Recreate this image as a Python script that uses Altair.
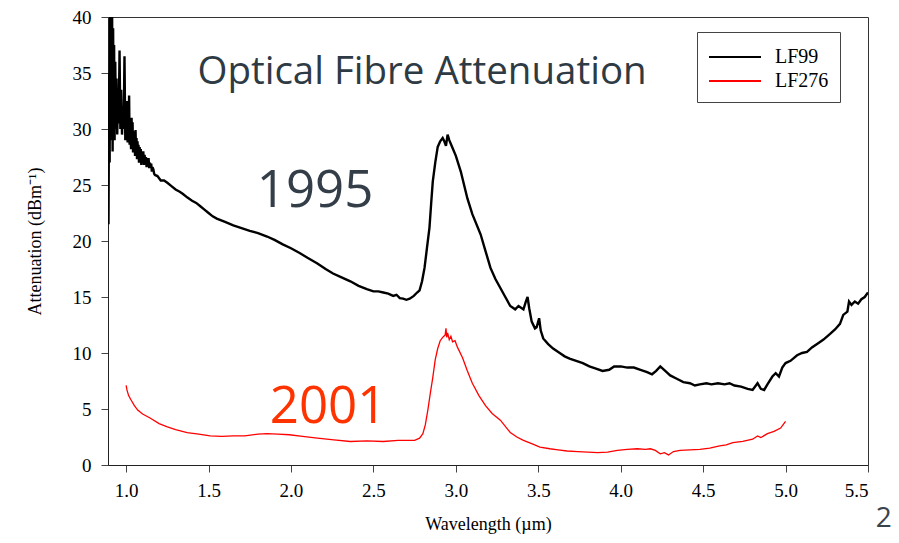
import altair as alt
import pandas as pd

# ---- data ----
lf99_x = [0.893, 0.897, 0.900, 0.903, 0.906, 0.909, 0.912, 0.915, 0.918, 0.921, 0.924, 0.927, 0.930,
          0.934, 0.938, 0.942, 0.946, 0.950, 0.955, 0.960, 0.965, 0.970, 0.975, 0.980, 0.985, 0.990,
          0.995, 1.000, 1.003, 1.006, 1.009, 1.012, 1.015, 1.018, 1.021, 1.024, 1.027, 1.030, 1.033,
          1.036, 1.039, 1.042, 1.045, 1.048, 1.051, 1.054, 1.057, 1.060, 1.063, 1.066, 1.069, 1.072,
          1.075, 1.078, 1.082, 1.085, 1.089, 1.092, 1.096, 1.100, 1.104, 1.108, 1.112, 1.116, 1.120,
          1.124, 1.128, 1.132, 1.136, 1.140, 1.144, 1.148, 1.152, 1.156, 1.160, 1.165, 1.170,
          1.175, 1.19, 1.21, 1.23, 1.25, 1.275, 1.30, 1.325, 1.345, 1.37, 1.40, 1.425, 1.45, 1.475,
          1.50, 1.525, 1.55, 1.60, 1.65, 1.70, 1.75, 1.80, 1.855, 1.90, 1.95, 2.00, 2.055, 2.10, 2.16,
          2.21, 2.255, 2.30, 2.36, 2.41, 2.46, 2.50, 2.53, 2.56, 2.59, 2.62, 2.64, 2.66, 2.68, 2.70,
          2.72, 2.745, 2.765, 2.78, 2.795, 2.81, 2.825, 2.84, 2.85, 2.86, 2.875, 2.89, 2.905, 2.92,
          2.93, 2.94, 2.95, 2.96, 2.98, 3.00, 3.03, 3.05, 3.07, 3.10, 3.15, 3.18, 3.21, 3.24, 3.27,
          3.30, 3.33, 3.36, 3.38, 3.40, 3.41, 3.425, 3.435, 3.445, 3.46, 3.48, 3.49, 3.505, 3.515,
          3.53, 3.56, 3.59, 3.63, 3.66, 3.69, 3.73, 3.77, 3.81, 3.85, 3.89, 3.93, 3.96, 4.00, 4.04,
          4.08, 4.12, 4.16, 4.19, 4.215, 4.24, 4.27, 4.30, 4.34, 4.38, 4.42, 4.45, 4.48, 4.52, 4.55,
          4.59, 4.63, 4.66, 4.69, 4.73, 4.77, 4.80, 4.83, 4.85, 4.87, 4.89, 4.92, 4.94, 4.96, 4.98,
          5.00, 5.03, 5.07, 5.10, 5.13, 5.16, 5.20, 5.23, 5.27, 5.30, 5.33, 5.35, 5.375, 5.385, 5.40,
          5.42, 5.44, 5.46, 5.48, 5.50]
lf99_y = [21.5, 35.0, 27.0, 40.0, 29.0, 40.0, 30.0, 40.0, 28.0, 39.0, 30.5, 37.5, 29.0,
          36.0, 30.0, 34.5, 29.5, 33.0, 30.5, 37.0, 30.0, 33.5, 29.5, 32.0, 30.0, 36.5,
          29.0, 31.8, 29.2, 32.5, 28.8, 31.5, 29.0, 33.0, 28.6, 30.8, 29.4, 28.2, 31.0,
          28.6, 30.6, 27.9, 29.8, 28.3, 29.6, 27.6, 29.9, 28.0, 29.2, 27.3, 28.9, 27.6,
          28.6, 27.0, 28.4, 27.2, 28.2, 26.8, 27.9, 27.2, 28.0, 26.8, 27.7, 26.9, 27.5,
          26.6, 27.4, 26.7, 27.4, 26.5, 27.0, 26.6, 26.9, 26.2, 26.6, 26.4, 26.0,
          25.9, 25.8, 25.4, 25.4, 25.2, 24.9, 24.6, 24.4, 24.2, 23.9, 23.6, 23.4, 23.1, 22.8,
          22.5, 22.2, 22.0, 21.7, 21.4, 21.15, 20.9, 20.7, 20.4, 20.1, 19.7, 19.35, 18.9, 18.5, 18.0,
          17.5, 17.1, 16.8, 16.4, 16.0, 15.7, 15.5, 15.5, 15.4, 15.3, 15.1, 15.2, 14.9, 14.85, 14.75,
          14.85, 15.1, 15.4, 15.6, 16.4, 17.6, 19.4, 21.2, 23.3, 25.3, 27.0, 28.4, 28.9, 29.2,
          28.9, 28.5, 29.5, 29.0, 28.3, 27.6, 26.2, 25.0, 23.8, 22.4, 20.6, 19.1, 17.6, 16.6, 15.8,
          15.0, 14.2, 13.9, 14.2, 14.0, 13.9, 14.6, 15.0, 14.0, 12.8, 12.2, 12.3, 13.1, 12.0,
          11.3, 10.8, 10.4, 10.0, 9.7, 9.5, 9.3, 9.1, 8.8, 8.6, 8.4, 8.5, 8.8, 8.8, 8.7,
          8.7, 8.5, 8.3, 8.1, 8.4, 8.8, 8.4, 8.0, 7.7, 7.4, 7.3, 7.1, 7.2, 7.3, 7.2,
          7.3, 7.2, 7.3, 7.1, 7.0, 6.8, 6.7, 7.3, 6.8, 6.7, 7.2, 7.9, 8.2, 7.9, 8.7,
          9.1, 9.3, 9.8, 10.0, 10.1, 10.5, 10.9, 11.2, 11.7, 12.1, 12.6, 13.4, 13.7, 14.6, 14.3,
          14.6, 14.4, 14.8, 15.0, 15.4]

lf276_x = [1.000, 1.005, 1.015, 1.03, 1.05, 1.07, 1.10, 1.145, 1.20, 1.25, 1.30, 1.37, 1.44, 1.51,
           1.58, 1.65, 1.72, 1.80, 1.855, 1.92, 1.99, 2.07, 2.16, 2.26, 2.36, 2.46, 2.56, 2.65,
           2.72, 2.75, 2.78, 2.80, 2.815, 2.83, 2.845, 2.86, 2.875, 2.89, 2.905, 2.92, 2.935, 2.94,
           2.945, 2.95, 2.96, 2.97, 2.98, 2.995, 3.01, 3.04, 3.07, 3.10, 3.14, 3.18, 3.22, 3.27,
           3.33, 3.37, 3.41, 3.46, 3.51, 3.57, 3.62, 3.675, 3.74, 3.80, 3.86, 3.92, 3.98, 4.04,
           4.10, 4.15, 4.18, 4.21, 4.24, 4.265, 4.29, 4.32, 4.36, 4.42, 4.48, 4.54, 4.60, 4.64,
           4.68, 4.74, 4.80, 4.83, 4.85, 4.89, 4.93, 4.97, 5.00]
lf276_y = [7.1, 6.7, 6.2, 5.8, 5.3, 4.9, 4.55, 4.2, 3.7, 3.4, 3.15, 2.9, 2.75, 2.6,
           2.55, 2.6, 2.6, 2.75, 2.8, 2.75, 2.7, 2.55, 2.4, 2.25, 2.1, 2.15, 2.1, 2.2,
           2.2, 2.2, 2.4, 2.8, 3.6, 4.9, 6.4, 7.8, 9.4, 10.4, 11.1, 11.4, 11.6, 12.2,
           11.4, 11.8, 11.2, 11.5, 11.0, 11.1, 10.5, 9.6, 8.4, 7.3, 6.2, 5.3, 4.6, 4.0,
           2.9, 2.5, 2.2, 1.9, 1.6, 1.45, 1.35, 1.25, 1.2, 1.15, 1.1, 1.15, 1.3, 1.4,
           1.45, 1.4, 1.45, 1.3, 1.0, 1.1, 0.9, 1.2, 1.3, 1.35, 1.4, 1.5, 1.7, 1.8,
           2.0, 2.1, 2.3, 2.6, 2.45, 2.8, 3.0, 3.3, 3.9]

series_names = ["LF99", "LF276"]
series_colors = ["#000000", "#ff0000"]

x_ticks = [1.0, 1.5, 2.0, 2.5, 3.0, 3.5, 4.0, 4.5, 5.0, 5.5]
y_ticks = [0, 5, 10, 15, 20, 25, 30, 35, 40]

ann_text = ["Optical Fibre Attenuation", "1995", "2001", "2"]
ann_x = [2.795, 2.146, 2.225, 5.595]
ann_y = [35.1, 24.4, 5.07, -4.8]

df99 = pd.DataFrame({"wl": lf99_x, "att": lf99_y, "series": "LF99"})
df276 = pd.DataFrame({"wl": lf276_x, "att": lf276_y, "series": "LF276"})

xs = alt.Scale(domain=[0.89, 5.5], nice=False, zero=False)
ys = alt.Scale(domain=[0, 40], nice=False, zero=False)
cs = alt.Scale(domain=series_names, range=series_colors)

serif = "Liberation Serif"
nbsp = "\u00a0"

x_enc = alt.X("wl:Q", scale=xs, title="Wavelength (µm)",
              axis=alt.Axis(values=x_ticks, format=".1f", grid=False, tickSize=7,
                            labelPadding=9, titlePadding=15))
y_enc = alt.Y("att:Q", scale=ys, title="Attenuation (dBm⁻¹)",
              axis=alt.Axis(values=y_ticks, grid=False, tickSize=7, labelPadding=10,
                            titlePadding=28))
color_enc = alt.Color("series:N", scale=cs,
                      legend=alt.Legend(title=None, orient="none", legendX=589, legendY=15,
                                        symbolType="M-1,0H3", symbolSize=676,
                                        symbolStrokeWidth=2, labelOffset=39, rowPadding=-3,
                                        padding=11, strokeColor="#444444", fillColor="white",
                                        labelFont=serif, labelFontSize=20, labelColor="black",
                                        labelExpr="datum.label + '" + nbsp * 6 + "'"))

line99 = alt.Chart(df99).mark_line(strokeWidth=2.4, clip=True).encode(x=x_enc, y=y_enc, color=color_enc)
line276 = alt.Chart(df276).mark_line(strokeWidth=1.3, clip=True).encode(x=x_enc, y=y_enc, color=color_enc)

def ann(i, size, color, font="Open Sans"):
    d = pd.DataFrame({"x": [ann_x[i]], "y": [ann_y[i]], "t": [ann_text[i]]})
    return alt.Chart(d).mark_text(fontSize=size, color=color, font=font,
                                  align="center", baseline="middle").encode(
        x=alt.X("x:Q", scale=xs), y=alt.Y("y:Q", scale=ys), text="t:N")

chart = alt.layer(
    line99, line276,
    ann(0, 38.5, "#2e3a44"),
    ann(1, 51, "#333e48"),
    ann(2, 51, "#ff3300"),
    ann(3, 28, "#3a434b"),
).properties(
    width=760, height=448,
    autosize=alt.AutoSizeParams(type="none"),
    padding={"left": 100, "top": 9, "right": 23, "bottom": 70},
    background="white",
).configure_view(
    stroke="#333333", strokeWidth=1
).configure_axis(
    labelFont=serif, labelFontSize=19, labelColor="black",
    titleFont=serif, titleFontSize=18, titleColor="black", titleFontWeight="normal",
    domainColor="#222222", tickColor="#444444",
)

chart.save("out.html", embed_options={"renderer": "svg", "actions": False})
